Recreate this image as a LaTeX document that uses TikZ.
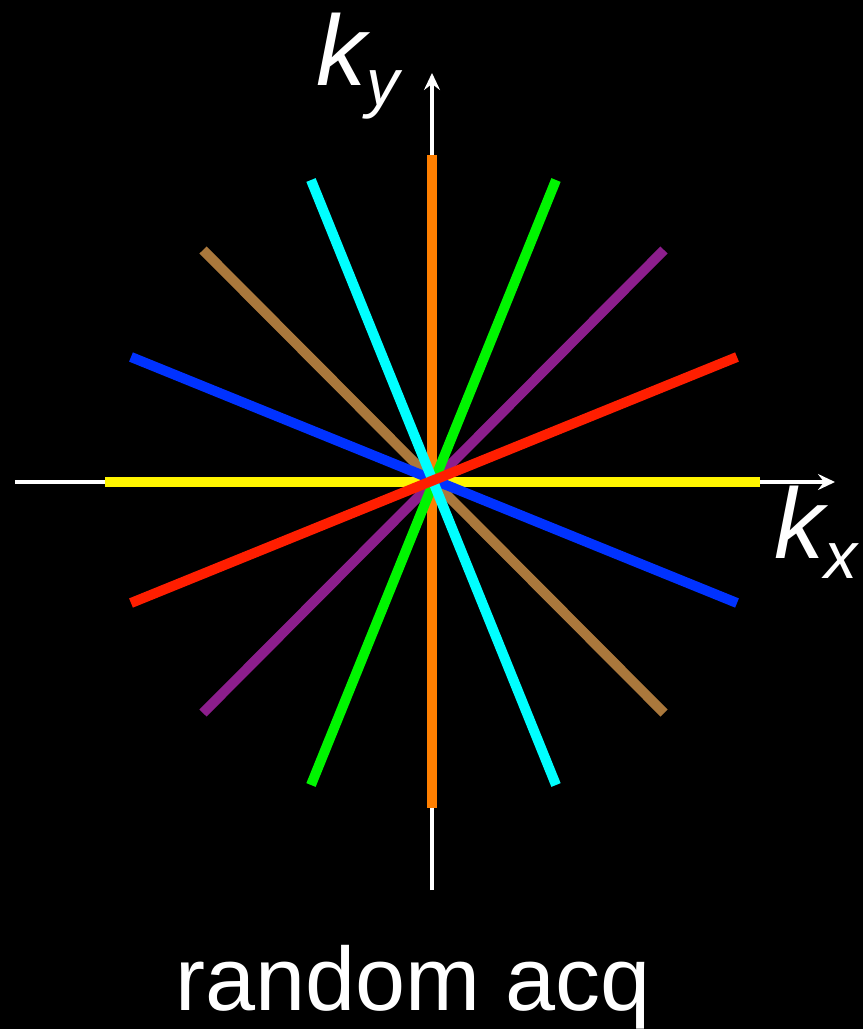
\documentclass[tikz,border=0pt]{standalone}
\usepackage{fontspec}
\setmainfont{Liberation Sans}
\usetikzlibrary{arrows.meta}
\begin{document}
\begin{tikzpicture}[x=1pt,y=-1pt,
  axis/.style={draw=white,line width=3.5pt,-{Stealth[length=17pt,width=16pt,inset=6pt]}},
  spoke/.style={line width=10pt},
  lbl/.style={text=white,inner sep=0pt,font=\fontsize{100}{100}\selectfont\itshape}]
\fill[black] (0,0) rectangle (863,1029);
\useasboundingbox (0,0) rectangle (863,1029);
\coordinate (xl) at (15,482);
\coordinate (xr) at (835,482);
\coordinate (yb) at (432,890);
\coordinate (yt) at (432,73);
\draw[axis] (xl) -- (xr);
\draw[axis] (yb) -- (yt);
\coordinate (o1) at (432,155); \coordinate (o2) at (432,808);
\coordinate (y1) at (105,482); \coordinate (y2) at (760,482);
\coordinate (b1) at (203,250); \coordinate (b2) at (664,713);
\coordinate (p1) at (664,250); \coordinate (p2) at (203,713);
\coordinate (g1) at (556,180); \coordinate (g2) at (311,785);
\coordinate (bl1) at (131,357); \coordinate (bl2) at (737,603);
\coordinate (c1) at (311,180); \coordinate (c2) at (556,785);
\coordinate (r1) at (737,357); \coordinate (r2) at (131,603);
\draw[spoke,color={rgb,255:red,255;green,127;blue,0}] (o1) -- (o2);
\draw[spoke,color={rgb,255:red,255;green,245;blue,0}] (y1) -- (y2);
\draw[spoke,color={rgb,255:red,170;green,120;blue,60}] (b1) -- (b2);
\draw[spoke,color={rgb,255:red,140;green,30;blue,140}] (p1) -- (p2);
\draw[spoke,color={rgb,255:red,0;green,245;blue,0}] (g1) -- (g2);
\draw[spoke,color={rgb,255:red,0;green,50;blue,255}] (bl1) -- (bl2);
\draw[spoke,color={rgb,255:red,0;green,255;blue,255}] (c1) -- (c2);
\draw[spoke,color={rgb,255:red,255;green,30;blue,0}] (r1) -- (r2);
\node[lbl,anchor=base west] (ky) at (316,85) {k\raisebox{-20pt}{\fontsize{66}{66}\selectfont y}};
\node[lbl,anchor=base west] (kx) at (774,558) {k\raisebox{-20pt}{\fontsize{66}{66}\selectfont x}};
\node[text=white,inner sep=0pt,anchor=base,font=\fontsize{90}{90}\selectfont] (cap) at (413,1010) {random acq};
\end{tikzpicture}
\end{document}
